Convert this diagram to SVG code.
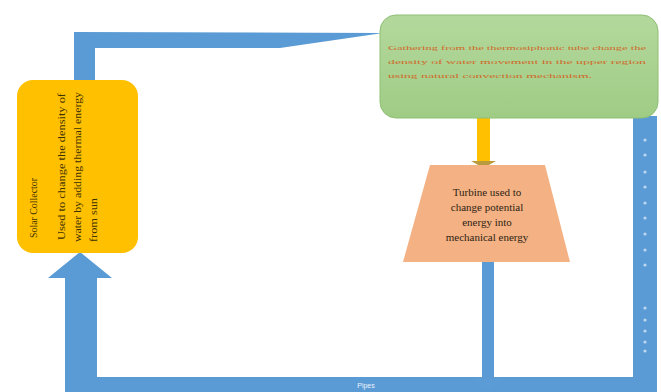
<svg xmlns="http://www.w3.org/2000/svg" width="661" height="392" viewBox="0 0 661 392">
<defs>
<linearGradient id="gg" x1="0" y1="0" x2="0" y2="1">
<stop offset="0" stop-color="#b4d89c"/>
<stop offset="1" stop-color="#9fcc85"/>
</linearGradient>
<style>
.pipe{fill:#5b9bd5}
.dot{fill:#bcd7f0}
.serif{font-family:"Liberation Serif","DejaVu Serif",serif}
.tt{font-size:11px;fill:#2e1f14;text-anchor:middle}
.sc{font-size:10px;fill:#3d3000}
.gt{font-size:7px;fill:#cf6a2a}
.lbl{font-family:"Liberation Sans",Arial,sans-serif;font-size:7px;fill:#e8f2fb}
</style>
</defs>
<rect width="661" height="392" fill="#ffffff"/>
<g id="connectors">
<path class="pipe" d="M74 32 L383 33 L280 48 L95 48 L95 82 L74 82 Z"/>
<rect class="pipe" x="633" y="116" width="24" height="276"/>
<rect class="pipe" x="65" y="377" width="592" height="15"/>
<path class="pipe" d="M65 392 L65 278 L48 278 L80 252 L112 278 L97 278 L97 392 Z"/>
<rect class="pipe" x="482" y="262" width="12" height="120"/>
<path class="pipe" d="M470 378 L506 378 L488 391 Z" opacity="0.7"/>
<rect x="477" y="117" width="13" height="46" fill="#ffc000"/>
<path d="M471 161 L496 161 L483.5 168 Z" fill="#b99a3c"/>
<g>
<circle class="dot" cx="645" cy="140" r="1.6"/>
<circle class="dot" cx="645" cy="155" r="1.6"/>
<circle class="dot" cx="645" cy="172" r="1.6"/>
<circle class="dot" cx="645" cy="187" r="1.6"/>
<circle class="dot" cx="645" cy="203" r="1.6"/>
<circle class="dot" cx="645" cy="218" r="1.6"/>
<circle class="dot" cx="645" cy="234" r="1.6"/>
<circle class="dot" cx="645" cy="250" r="1.6"/>
<circle class="dot" cx="645" cy="265" r="1.6"/>
<circle class="dot" cx="645" cy="308" r="1.6"/>
<circle class="dot" cx="645" cy="320" r="1.6"/>
<circle class="dot" cx="645" cy="331" r="1.6"/>
<circle class="dot" cx="645" cy="342" r="1.6"/>
<circle class="dot" cx="645" cy="351" r="1.6"/>
</g>
<text class="lbl" x="366" y="388" text-anchor="middle">Pipes</text>
</g>
<g id="green-box">
<rect x="380" y="15" width="278" height="103" rx="16" fill="url(#gg)" stroke="#8fbf74" stroke-width="1"/>
<text class="gt serif" x="388" y="50" textLength="258" lengthAdjust="spacingAndGlyphs">Gathering from the thermosiphonic tube change the</text>
<text class="gt serif" x="388" y="64" textLength="258" lengthAdjust="spacingAndGlyphs">density of water movement in the upper region</text>
<text class="gt serif" x="388" y="78" textLength="204" lengthAdjust="spacingAndGlyphs">using natural convection mechanism.</text>
</g>
<g id="turbine">
<path d="M430 165 L545 165 L570 262 L403 262 Z" fill="#f4b183"/>
<text class="tt serif" x="487" y="196">Turbine used to</text>
<text class="tt serif" x="487" y="211">change potential</text>
<text class="tt serif" x="487" y="226">energy into</text>
<text class="tt serif" x="487" y="241">mechanical energy</text>
</g>
<g id="solar-collector">
<rect x="17" y="80" width="121" height="173" rx="16" fill="#ffc000"/>
<text class="sc serif" transform="translate(37 238) rotate(-90)" textLength="60" lengthAdjust="spacingAndGlyphs">Solar Collector</text>
<text class="sc serif" transform="translate(65 240) rotate(-90)" textLength="147" lengthAdjust="spacingAndGlyphs">Used to change the density of</text>
<text class="sc serif" transform="translate(81 242) rotate(-90)" textLength="150" lengthAdjust="spacingAndGlyphs">water by adding thermal energy</text>
<text class="sc serif" transform="translate(97 242) rotate(-90)" textLength="44" lengthAdjust="spacingAndGlyphs">from sun</text>
</g>
</svg>
